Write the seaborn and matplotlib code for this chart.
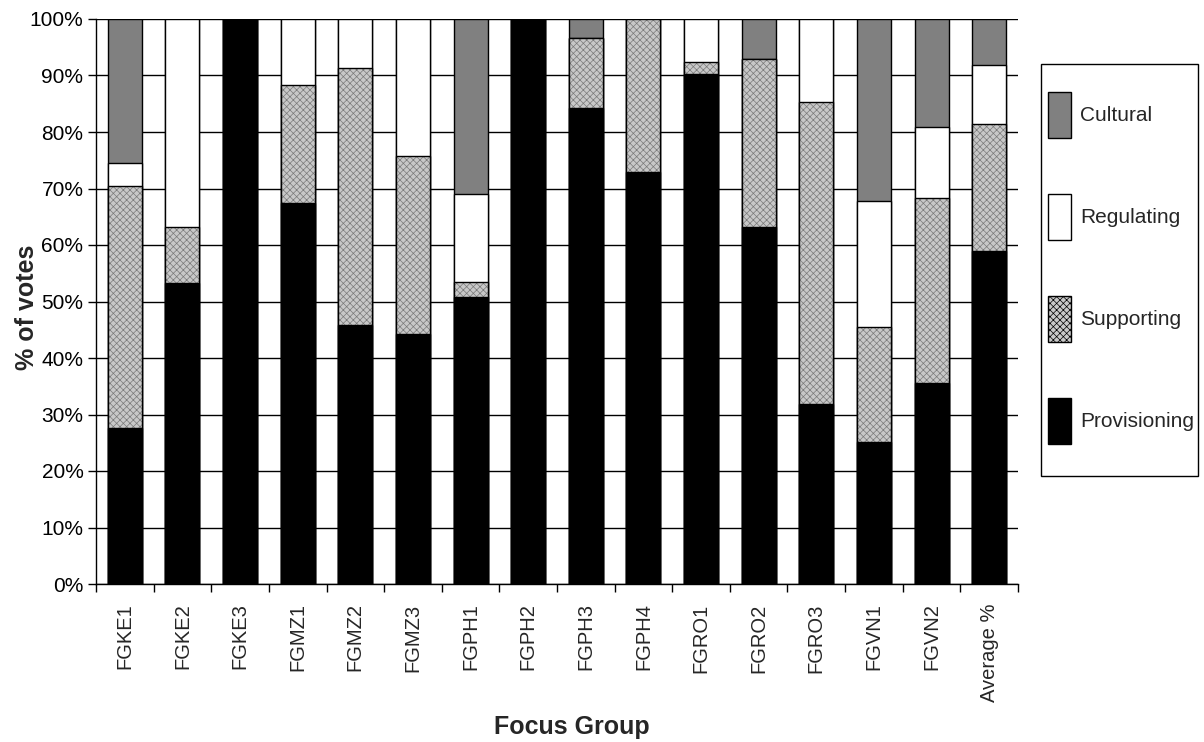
import numpy as np
import matplotlib
matplotlib.use("Agg")
import matplotlib.pyplot as plt
import matplotlib.patches as mpatches
from matplotlib.ticker import FixedLocator, PercentFormatter
import seaborn as sns

# Focus groups and the share of votes (%) per ecosystem-service category
groups = ["FGKE1", "FGKE2", "FGKE3", "FGMZ1", "FGMZ2", "FGMZ3", "FGPH1", "FGPH2",
          "FGPH3", "FGPH4", "FGRO1", "FGRO2", "FGRO3", "FGVN1", "FGVN2", "Average %"]
provisioning = [27.6, 53.2, 100.0, 67.5, 45.8, 44.2, 50.8, 100.0,
                84.3, 72.9, 90.2, 63.1, 31.8, 25.2, 35.6, 58.9]
supporting = [42.9, 10.0, 0.0, 20.8, 45.5, 31.6, 2.7, 0.0,
              12.3, 27.1, 2.2, 29.9, 53.5, 20.2, 32.7, 22.5]
regulating = [4.1, 36.8, 0.0, 11.7, 8.7, 24.2, 15.5, 0.0,
              0.0, 0.0, 7.6, 0.0, 14.7, 22.3, 12.5, 10.5]
cultural = [25.4, 0.0, 0.0, 0.0, 0.0, 0.0, 31.0, 0.0,
            3.4, 0.0, 0.0, 7.0, 0.0, 32.3, 19.2, 8.1]

sns.set_style("ticks")
plt.rcParams["font.family"] = ["Liberation Sans", "DejaVu Sans"]
plt.rcParams["hatch.linewidth"] = 0.5

W, H = 1204, 742
fig = plt.figure(figsize=(W / 100, H / 100), dpi=100)
ax = fig.add_axes([96 / W, 1 - 584 / H, 922 / W, 565 / H])

prov = np.array(provisioning)
supp_top = prov + np.array(supporting)
reg_top = supp_top + np.array(regulating)
total = reg_top + np.array(cultural)

bar_w = 0.59
SUPP_FACE = "#c8c8c8"
SUPP_HATCH = "xxxxx"
common = dict(x=groups, order=groups, width=bar_w, ax=ax, saturation=1,
              edgecolor="black", linewidth=1.0)

# Stacked segments drawn from the top of the stack downward
sns.barplot(y=total, color="#808080", **common)
sns.barplot(y=reg_top, color="white", **common)
# Supporting: stippled grey texture, then its black outline
sns.barplot(x=groups, y=supp_top, order=groups, width=bar_w, ax=ax, saturation=1,
            color=SUPP_FACE, edgecolor="#7a7a7a", linewidth=0, hatch=SUPP_HATCH)
sns.barplot(x=groups, y=supp_top, order=groups, width=bar_w, ax=ax, saturation=1,
            fill=False, edgecolor="black", linewidth=1.0)
sns.barplot(y=prov, color="black", **common)

# Axes styling
ax.set_xlim(-0.5, len(groups) - 0.5)
ax.set_ylim(0, 100)
ax.yaxis.set_major_locator(FixedLocator(np.arange(0, 101, 10)))
ax.yaxis.set_major_formatter(PercentFormatter(decimals=0))
ax.yaxis.grid(True, color="black", linewidth=1.0)
ax.set_axisbelow(True)

ax.xaxis.set_major_locator(FixedLocator(np.arange(-0.5, len(groups), 1)))
ax.xaxis.set_minor_locator(FixedLocator(np.arange(len(groups))))
ax.set_xticklabels([], minor=False)
ax.set_xticklabels(groups, minor=True, rotation=90, fontsize=14.5)
ax.tick_params(axis="x", which="major", length=6, width=1, color="black", direction="out")
ax.tick_params(axis="x", which="minor", length=0, pad=14)
ax.tick_params(axis="y", length=6, width=1, color="black", labelsize=15, pad=3)
for lab in ax.get_yticklabels():
    lab.set_color("black")

for side in ["top", "right"]:
    ax.spines[side].set_visible(False)
for side in ["left", "bottom"]:
    ax.spines[side].set_color("black")
    ax.spines[side].set_linewidth(1.0)

ax.set_xlabel("")
ax.set_ylabel("")
fig.text(27 / W, 1 - 307 / H, "% of votes", rotation=90, fontsize=18,
         fontweight="bold", ha="center", va="center")
fig.text(572 / W, 1 - 727 / H, "Focus Group", fontsize=18,
         fontweight="bold", ha="center", va="center")

# Legend (Cultural at top, Provisioning at bottom)
handles = [
    mpatches.Patch(facecolor="#808080", edgecolor="black", linewidth=1.0, label="Cultural"),
    mpatches.Patch(facecolor="white", edgecolor="black", linewidth=1.0, label="Regulating"),
    mpatches.Patch(facecolor=SUPP_FACE, edgecolor="black", linewidth=1.0, hatch=SUPP_HATCH,
                   label="Supporting"),
    mpatches.Patch(facecolor="black", edgecolor="black", linewidth=1.0, label="Provisioning"),
]
fs = 15
fs_px = fs * 100 / 72
patch_h, patch_w, pitch = 46, 23, 102
hh = (patch_h / fs_px - 0.245) / 0.65
leg = fig.legend(handles=handles, loc="upper left",
                 bbox_to_anchor=(1048 / W, 1 - 92 / H),
                 bbox_transform=fig.transFigure,
                 frameon=False, fontsize=fs, borderpad=0, borderaxespad=0,
                 handlelength=patch_w / fs_px, handleheight=hh,
                 handletextpad=0.45, labelspacing=(pitch - patch_h) / fs_px)
frame = mpatches.Rectangle((1041 / W, 1 - 476 / H), 157 / W, 412 / H,
                           transform=fig.transFigure, fill=False,
                           edgecolor="black", linewidth=1.0)
fig.patches.append(frame)

fig.savefig("out.png", dpi=100, facecolor="white")
